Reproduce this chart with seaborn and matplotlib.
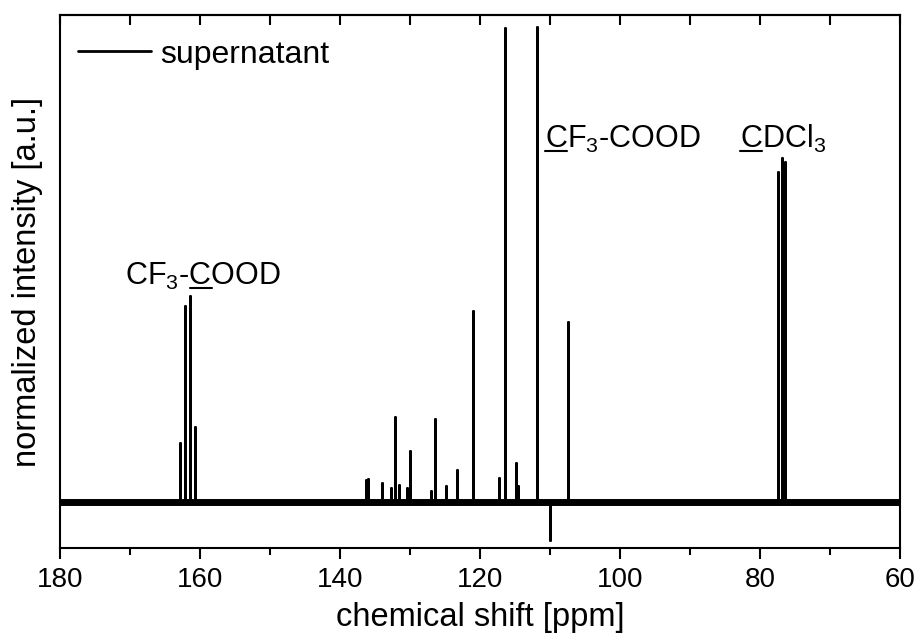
import pandas as pd
import matplotlib
matplotlib.use("Agg")
import matplotlib.pyplot as plt
from matplotlib.lines import Line2D
from matplotlib.ticker import MultipleLocator
import seaborn as sns

# Peak positions (ppm) and normalized heights
peak_ppm = [162.86, 162.14, 161.43, 160.71,
            136.3, 136.0, 134.0, 132.7, 132.1, 131.6, 130.4, 130.0,
            127.0, 126.4, 124.9, 123.3, 121.0,
            117.3, 116.4, 114.9, 114.6, 111.9, 110.0, 107.4,
            77.43, 76.86, 76.43]
peak_height = [0.124, 0.413, 0.434, 0.158,
               0.046, 0.048, 0.040, 0.030, 0.179, 0.036, 0.030, 0.107,
               0.023, 0.175, 0.034, 0.067, 0.402,
               0.050, 0.998, 0.082, 0.034, 1.000, -0.080, 0.379,
               0.695, 0.724, 0.716]

x_range = [180, 60]
x_label = "chemical shift [ppm]"
y_label = "normalized intensity [a.u.]"

# peak labels: (text before underlined C, text after it, ppm, height)
labels = [("CF$_3$-", "OOD", 170.7, 0.457),
          ("", "F$_3$-COOD", 110.7, 0.745),
          ("", "DCl$_3$", 82.86, 0.745)]

# build a stick spectrum: baseline with a spike at every peak
xs, ys = [x_range[0]], [0.0]
for p, h in sorted(zip(peak_ppm, peak_height), reverse=True):
    xs += [p, p, p]
    ys += [0.0, h, 0.0]
xs.append(x_range[1])
ys.append(0.0)
spec = pd.DataFrame({"ppm": xs, "intensity": ys})

sns.set_style("ticks")
plt.rcParams["font.family"] = ["Liberation Sans", "DejaVu Sans"]
plt.rcParams["mathtext.fontset"] = "custom"
plt.rcParams["mathtext.rm"] = "Liberation Sans"
plt.rcParams["mathtext.it"] = "Liberation Sans:italic"
for k in ["text.color", "axes.labelcolor", "xtick.color", "ytick.color",
          "axes.edgecolor"]:
    plt.rcParams[k] = "black"

fig = plt.figure(figsize=(9.17, 6.39), dpi=100)
ax = fig.add_axes([0.0654, 0.1424, 0.9161, 0.8341])

ax.axhline(0, color="black", lw=5)
sns.lineplot(data=spec, x="ppm", y="intensity", sort=False, estimator=None,
             color="black", lw=2, label="supernatant", ax=ax)

ax.set_xlim(x_range)
ax.set_ylim(-0.097, 1.025)
ax.set_yticks([])
ax.set_xlabel(x_label, fontsize=23.5, labelpad=6)
ax.set_ylabel(y_label, fontsize=23.5, labelpad=12)

ax.xaxis.set_major_locator(MultipleLocator(20))
ax.xaxis.set_minor_locator(MultipleLocator(10))
ax.tick_params(axis="x", which="major", direction="out", length=8, width=1.5,
               labelsize=20, pad=6)
ax.tick_params(axis="x", which="minor", direction="out", length=5, width=1.5)
top = ax.secondary_xaxis("top")
top.xaxis.set_major_locator(MultipleLocator(10))
top.tick_params(direction="in", length=7, width=1.5, labeltop=False)
top.spines["top"].set_linewidth(1.5)
for s in ax.spines.values():
    s.set_linewidth(1.5)
    s.set_visible(True)

ax.legend(loc="upper left", bbox_to_anchor=(0.021, 0.954), frameon=False,
          fontsize=23, borderpad=0, borderaxespad=0, handlelength=2.3,
          handletextpad=0.3)

# labels with an underlined carbon (mathtext has no \underline)
fig.canvas.draw()
renderer = fig.canvas.get_renderer()
for pre, post, px, py in labels:
    t = ax.text(px, py, pre + "C" + post, fontsize=22, va="baseline")
    x0 = t.get_window_extent(renderer).x0
    w_pre = 0.0
    if pre:
        tmp = ax.text(px, py, pre, fontsize=22)
        w_pre = tmp.get_window_extent(renderer).width
        tmp.remove()
    tmp = ax.text(px, py, "C", fontsize=22)
    w_c = tmp.get_window_extent(renderer).width
    tmp.remove()
    yb = ax.transData.transform((px, py))[1] - 3
    (fx0, fy), (fx1, _) = fig.transFigure.inverted().transform(
        [(x0 + w_pre, yb), (x0 + w_pre + w_c, yb)])
    fig.add_artist(Line2D([fx0, fx1], [fy, fy], color="black", lw=1.5))

fig.savefig("out.png", dpi=100)
